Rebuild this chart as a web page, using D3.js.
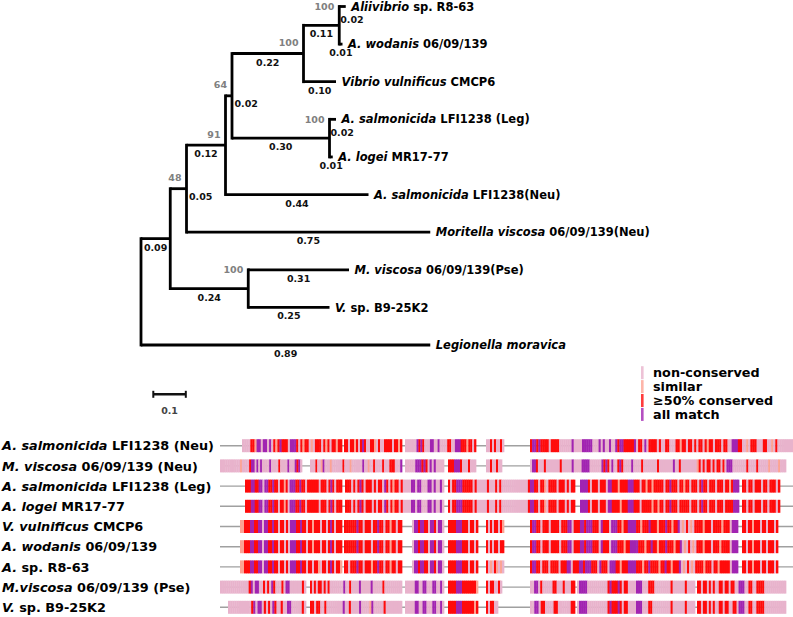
<!DOCTYPE html>
<html><head><meta charset="utf-8">
<script src="https://cdn.jsdelivr.net/npm/d3@7"></script>
<style>
html,body{margin:0;padding:0;background:#fff;}
svg{display:block;font-family:"DejaVu Sans",sans-serif;font-weight:bold;}
</style>
</head><body>
<svg id="c" width="793" height="617"></svg>
<script>
// ---------------- TREE DATA ----------------
const nodeIds   = ["root","N1","N2","N3","N4","N5","N6","Ali","Wod","Vib","N7","SalLeg","Logei","SalNeu","Mor","N8","Pse","B9","Leg"];
const parentIds = ["","root","N1","N2","N3","N4","N5","N6","N6","N5","N4","N7","N7","N3","N2","N1","N8","N8","root"];
const branchLen = [0,0.09,0.05,0.12,0.02,0.22,0.11,0.02,0.01,0.10,0.30,0.02,0.01,0.44,0.75,0.24,0.31,0.25,0.89];
const support   = [null,null,48,91,64,100,100,null,null,null,100,null,null,null,null,100,null,null,null];

const leafIds    = ["Ali","Wod","Vib","SalLeg","Logei","SalNeu","Mor","Pse","B9","Leg"];
const leafItalic = ["Aliivibrio","A. wodanis","Vibrio vulnificus","A. salmonicida","A. logei","A. salmonicida","Moritella viscosa","M. viscosa","V.","Legionella moravica"];
const leafRest   = [" sp. R8-63"," 06/09/139"," CMCP6"," LFI1238 (Leg)"," MR17-77"," LFI1238(Neu)"," 06/09/139(Neu)"," 06/09/139(Pse)"," sp. B9-25K2",""];
const scaleBarValue = 0.1;

// ---------------- ALIGNMENT DATA ----------------
// n = non-conserved, s = similar, c = >=50% conserved, a = all match ; [startCol, endCol, pattern]
const seqItalic = ["A. salmonicida","M. viscosa","A. salmonicida","A. logei","V. vulnificus","A. wodanis","A.","M.viscosa","V."];
const seqRest   = [" LFI1238 (Neu)"," 06/09/139 (Neu)"," LFI1238 (Leg)"," MR17-77"," CMCP6"," 06/09/139"," sp. R8-63"," 06/09/139 (Pse)"," sp. B9-25K2"];
const seqLine   = [[0,287],[0,283],[0,287],[0,287],[0,287],[0,287],[0,287],[0,283],[0,283]];

const rowSalNeu = [
  [11,61,"nnnn cc s aa n aa n a n c s c a ccc n aaa c n c s cc nsn ccc n c s c n cc s cc"],
  [62,91,"cc n cc s c n c a c n n cc s n c n n cccc n cc s c"],
  [92.5,128,"nnnnnn a c a c nnn aa nn a nnnn cc nn aaa ccc s cc nc"],
  [133,142,"nncncnncn"],
  [155,287,"c aa ca cccc n cccc nnnnnn a nnnn aaaaa nnn a n a nn a nn acaac cccc a n cc n a n cccc ncnn cc nnn cc s cc n cc ncn cc ncs cc n ccc n cc nn aaa cc nnsn ccc nnn cc nnsn c nnnnnnnn"]
];
const rowMvNeu = [
  [0,41,"nnnnnnnnnnn s nnnn c aa n a n a nnnn a nnnn c nnnn a nnn aca n"],
  [45,91,"nnn c nn s a nnn s nnnnnn c nnn s nnnnnn a nn s nn c nnnn c nnn ccc nnn a"],
  [92.5,112,"nnnnn aaa c a c n a n a nnnn"],
  [114,128,"ccc aaa c nnn c nnn"],
  [133,141,"nncnncnn"],
  [155,283,"n aa c nnn c nnnnnnn c nnnnn a nnnn aaaa nnnnnn acac n a nn cac nnnn a nnnn c nnnnnnn c nnnnnnn a nn c nnnnnnnn sc n cnccnc n ccnc n aaa nnnnnnn c nnnn c nnnnn s nnnn s nnn"]
];
const rowSalLeg = [
  [12.5,61,"ccc aa cc aa n aa cc a cc n cc s c n aaa cc a cc n cccccc n ccc n c a c n ccc"],
  [62.5,112,"ccc n c n c a c n ccc n c n cc n a c n c s cc n c nnnn aa n aa nnn aa n a nn a n"],
  [114,177.5,"cncc aaa ccccc n c nnnnn c nnn c n c nnnnnnnnnnnnn c aa cc n ccs n cccc n ccc nc n cc"],
  [180,259.5,"aaaa c n ccc n ccc n aa cccscccc aaa ccc n ccscc s ccccc n cc a ccc n ccscc n ccc nc a cc n ccc n ccc n ccsc aaa"],
  [261,280,"ccnccncccnccncccnc"]
];
const rowLogei = [
  [12.5,61,"ccc aa cc aa n aa cc a cc n cc s c n aaa cc a cc n cccccc n ccc n c a c n ccc"],
  [62.5,112,"ccc n c n c a c n ccc n c n cc n a c n c s cc n c nnnn aa n aa nnn aa n a nn a n"],
  [114,177.5,"cncc aaa ccccc n c nnnnn c nnn c n c nnnnnnnnnnnnn c aa cc n ccs n cccc n ccc nc n cc"],
  [180,259.5,"aaaa c n ccc n ccc n aa ccccsccc aaa ccc n ccccc s ccscc n cc a ccc n ccccc n ccc nc a cc n ccc n ccc n cccc aaa"],
  [261,280,"ccnccncccnccncccnc"]
];
const rowVvul = [
  [10,61,"ss ccc aa cc aa n aa cc a cc n cc n c n aaa cc a cc n cc s ccc n cc n c a c n ccc"],
  [62,91,"cccccc a cc n ccc n cc a cc n cc s cc n cc"],
  [96,112,"n aa c aa cc n aa c n aa n"],
  [114,129,"cccc aaa ccc n cc n c"],
  [133,142,"cncnccncs"],
  [155,259,"c aa cc n ccc n cccc n ccc aa n ccc aacaaa ccc n a ccc n aaa ccscc aaaa ccsccc a cccsccc a ccscc a nsncnsnc cccsccc n ccccsccc n aaa"],
  [261,279,"ccnccscccnccncccnc"]
];
const rowWod = [
  [10,61,"ss ccc aa cc aa n aa cc a cc n cc n c n aaa cc a cc n cc s ccc n cc n c a c n ccc"],
  [62,91,"cccccc a cc n ccc n cc a cc n cc s cc n cc"],
  [96,112,"n aa c aa cc n aa c n aa n"],
  [114,129,"cccc aaa ccc n cc n c"],
  [133,142,"cncnccncc"],
  [155,259,"c aa cc n ccc n cccc n ccc aa n ccc aacaaa ccc n a ccc n aaa cccscc aaaa cccscc a ccsccc a cccscc a nsncnsnc ccsccc n cccscccc n aaa"],
  [261,279,"ccnccscccnccncccnc"]
];
const rowAsp = [
  [10,61,"ss ccc aa cc aa n aa cc a cc n cc n c n aaa cc a cc n cc n cc s n cc n c a c n cc s"],
  [62,91,"cc n ccc a cc n ccc s cc a cc n cc s cc n cc"],
  [96,112,"n aa c aa cc n aa c n aa n"],
  [114,129,"cccc aaa ccc n cc n c"],
  [133,142,"cnsncsnsn"],
  [155,259,"c aa cc n ccc n cccc n ccc aa n ccc aacaaa ccc n a ccc n aaa ccsccc aaaa cccscc a ccccscc a ccsccc a nsncnsnc cccsccc n ccsccccc n aaa"],
  [261,279,"ccnccscccnccncccnc"]
];
const rowMvPse = [
  [0,43,"nnnnnnnnnnnnnn ca n aa nn cnc n ac nnn c n aa nnnnnn c n"],
  [45,91,"cncnccncnc nnnnnnn a nn c nnnn a nnnnn a nnnnn c nnnnnnnnn"],
  [92.5,112,"nnnnnaannaannnaannan"],
  [114,129,"ccccaaacccccccs"],
  [133,141,"cnccnncn"],
  [155,177.5,"nnaancnnnnnccnnncnnncc"],
  [178.5,237.5,"naaaannnnnnnnnncacccacnccnnnnaaannncccnnnnnnnncnnnnnncnnnn"],
  [238.5,283,"ccnccncncnnccnccnccnnaaannccnnccccnnnnnnnnnnn"]
];
const rowVsp = [
  [4,43,"nnnnnnnnnnn ca n aa n c nc n ac nn c nn aa nnnnn c n"],
  [45,91,"ccnccnnc nnnnnnnn a nn c nnnn a nnnn s a nnnnn c nnnnnnnn"],
  [92.5,112,"nnnnnaannaannnaannan"],
  [114,129,"ccccaaaccccccsc"],
  [133,139,"cnccnn"],
  [155,177.5,"nnaanccnnnnccnnnnnncc"],
  [178.5,237.5,"naaaannnnnnnnnncacccacnccnnnnaaannnccnnnnnnnnncnnnnnncnnnn"],
  [238.5,283,"ccnccncncnnccnccnnccnaaannccnnccccnnnnnnnnnnn"]
];
const seqBlocks = [rowSalNeu,rowMvNeu,rowSalLeg,rowLogei,rowVvul,rowWod,rowAsp,rowMvPse,rowVsp];

const legendKeys   = ["n","s","c","a"];
const legendLabels = ["non-conserved","similar","\u226550% conserved","all match"];

// ---------------- DRAW ----------------
const classColors = {n:"#e8b3cc", s:"#fca394", c:"#ff0b0b", a:"#a124b1"};
const svg = d3.select("#c");
svg.append("rect").attr("width",793).attr("height",617).attr("fill","#fff");

// Tree
const table = nodeIds.map((id,i)=>({id, parent: parentIds[i] || null, len: branchLen[i], sup: support[i]}));
const root = d3.stratify().id(d=>d.id).parentId(d=>d.parent)(table);
root.eachBefore(n => { n.dist = n.parent ? n.parent.dist + n.data.len : 0; });
const xT = d3.scaleLinear().domain([0,1]).range([141,466]);
const leaves = root.leaves();
const yT = d3.scaleLinear().domain([0, leaves.length-1]).range([6.5,345]);
leaves.forEach((l,i)=>{ l.yi = yT(i); });
root.eachAfter(n => { if (n.children) n.yi = (n.children[0].yi + n.children[n.children.length-1].yi)/2; });

const gT = svg.append("g").attr("fill","none").attr("stroke","#000").attr("stroke-width",2.8);
root.descendants().forEach(n => {
  if (n.parent) gT.append("path").attr("d",`M${xT(n.parent.dist)},${n.yi}H${xT(n.dist)}`).attr("stroke-linecap","butt");
  if (n.children) gT.append("path")
    .attr("d",`M${xT(n.dist)},${n.children[0].yi}V${n.children[n.children.length-1].yi}`)
    .attr("stroke-linecap","square");
});

// leaf labels
const gL = svg.append("g").attr("font-size",11.5).attr("fill","#000");
leaves.forEach(l => {
  const i = leafIds.indexOf(l.id);
  const t = gL.append("text").attr("x", xT(l.dist)+5.5).attr("y", l.yi).attr("dy","0.36em").style("white-space","pre");
  t.append("tspan").attr("font-style","italic").text(leafItalic[i]);
  if (leafRest[i]) t.append("tspan").text(leafRest[i]);
});

// branch length labels
const gB = svg.append("g").attr("font-size",9.5).attr("fill","#111");
root.descendants().filter(n=>n.parent).forEach(n => {
  const px = xT(n.parent.dist), cx = xT(n.dist), y = n.yi;
  const t = gB.append("text").text(n.data.len.toFixed(2));
  const w = t.node().getComputedTextLength();
  const upper = n.parent.children[0] === n;
  if (w + 2 < cx - px) t.attr("x",(px+cx)/2).attr("y",y+12).attr("text-anchor","middle");
  else if (upper && !n.children) t.attr("x",px+1).attr("y",y+16.5);
  else if (upper) t.attr("x",cx+2.5).attr("y",y+11);
  else t.attr("x",(px+cx)/2).attr("y",y+12.3).attr("text-anchor","middle");
});

// bootstrap support
const gS = svg.append("g").attr("font-size",9.5).attr("fill","#808080").attr("text-anchor","end");
root.descendants().filter(n=>n.data.sup != null).forEach(n => {
  const top = n.children[0].yi;
  const y = (n.yi - top < 22) ? top + 3.5 : n.yi - 7.5;
  gS.append("text").attr("x", xT(n.dist)-5).attr("y", y).text(n.data.sup);
});

// scale bar
const sbX = 153.3, sbY = 394.3, sbW = xT(scaleBarValue) - xT(0);
const gSB = svg.append("g").attr("stroke","#111");
gSB.append("line").attr("x1",sbX).attr("x2",sbX+sbW).attr("y1",sbY).attr("y2",sbY).attr("stroke-width",2.5);
[sbX, sbX+sbW].forEach(x => gSB.append("line").attr("x1",x).attr("x2",x).attr("y1",sbY-3.5).attr("y2",sbY+3.5).attr("stroke-width",2));
svg.append("text").attr("x",sbX+sbW/2).attr("y",413.5).attr("text-anchor","middle").attr("font-size",9.5).attr("fill","#444").text(scaleBarValue);

// legend
const gLg = svg.append("g");
legendLabels.forEach((lab,i) => {
  const cy = 372.7 + i*13.9;
  gLg.append("rect").attr("x",641).attr("y",cy-6.5).attr("width",2.6).attr("height",13).attr("fill",classColors[legendKeys[i]]).attr("opacity",0.8);
  gLg.append("text").attr("x",653).attr("y",cy).attr("dy","0.36em").attr("font-size",12.8).text(lab);
});

// alignment
const xA = d3.scaleLinear().domain([0,287]).range([220,794]);
const yA = d3.scaleLinear().domain([0,8]).range([445.7,607.3]);
const barH = 13;
const gA = svg.append("g");
seqBlocks.forEach((blocks,r) => {
  const cy = yA(r);
  gA.append("line").attr("x1",xA(seqLine[r][0])).attr("x2",xA(seqLine[r][1])).attr("y1",cy).attr("y2",cy)
    .attr("stroke","#a0a0a0").attr("stroke-width",1.4);
  blocks.forEach(([s,e,pat]) => {
    const p = pat.replace(/\s+/g,"").split("");
    const w = (e - s) / p.length;
    gA.selectAll(null).data(p).enter().append("rect")
      .attr("x",(ch,k)=>xA(s+k*w))
      .attr("width",(ch,k)=>xA(s+(k+1)*w)-xA(s+k*w)+0.35)
      .attr("y",cy-barH/2).attr("height",barH)
      .attr("fill",ch=>classColors[ch]);
  });
  const t = svg.append("text").attr("x",2).attr("y",cy).attr("dy","0.36em").attr("font-size",12.8).style("white-space","pre");
  t.append("tspan").attr("font-style","italic").text(seqItalic[r]);
  t.append("tspan").text(seqRest[r]);
});
</script>
</body></html>
